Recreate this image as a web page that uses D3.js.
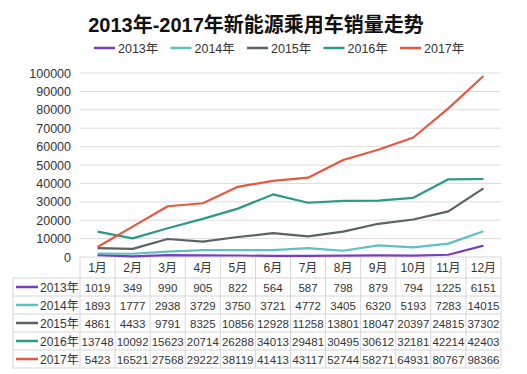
<!DOCTYPE html>
<html>
<head>
<meta charset="utf-8">
<script src="https://cdn.jsdelivr.net/npm/d3@7"></script>
<style>
  body { margin: 0; background: #fff; }
  text { font-family: "Liberation Sans", Arial, "Noto Sans CJK SC", sans-serif; }
</style>
</head>
<body>
<svg id="chart"></svg>
<script>
const months = ["1月", "2月", "3月", "4月", "5月", "6月", "7月", "8月", "9月", "10月", "11月", "12月"];
const years = ["2013年", "2014年", "2015年", "2016年", "2017年"];
const yTicks = [0, 10000, 20000, 30000, 40000, 50000, 60000, 70000, 80000, 90000, 100000];

const s2013 = [1019, 349, 990, 905, 822, 564, 587, 798, 879, 794, 1225, 6151];
const s2014 = [1893, 1777, 2938, 3729, 3750, 3721, 4772, 3405, 6320, 5193, 7283, 14015];
const s2015 = [4861, 4433, 9791, 8325, 10856, 12928, 11258, 13801, 18047, 20397, 24815, 37302];
const s2016 = [13748, 10092, 15623, 20714, 26288, 34013, 29481, 30495, 30612, 32181, 42214, 42403];
const s2017 = [5423, 16521, 27568, 29222, 38119, 41413, 43117, 52744, 58271, 64931, 80767, 98366];

const colors = ["#7a3fb8", "#5cc2be", "#5a6262", "#2b9888", "#e9573f"];
const series = [s2013, s2014, s2015, s2016, s2017];

const width = 527;
const height = 374;
const plotLeft = 80, plotRight = 501, plotTop = 73, plotBottom = 257;
const headerH = 21, rowH = 18, tableLeft = 13;

const svg = d3.select("#chart").attr("width", width).attr("height", height);

// Title
svg.append("text")
  .attr("x", 256).attr("y", 32)
  .attr("text-anchor", "middle")
  .attr("font-size", 20).attr("font-weight", "bold")
  .attr("fill", "#111")
  .text("2013年-2017年新能源乘用车销量走势");

// Legend
const legend = svg.append("g").attr("transform", "translate(94, 48)");
years.forEach((y, i) => {
  const g = legend.append("g").attr("transform", `translate(${i * 76.5}, 0)`);
  g.append("line").attr("x1", 0).attr("x2", 21).attr("y1", 0).attr("y2", 0)
    .attr("stroke", colors[i]).attr("stroke-width", 2.5);
  g.append("text").attr("x", 24).attr("y", 4.5)
    .attr("font-size", 12.5).attr("fill", "#333").text(y);
});

const x = d3.scaleBand().domain(months).range([plotLeft, plotRight]);
const yScale = d3.scaleLinear().domain([0, 100000]).range([plotBottom, plotTop]);

// Gridlines
svg.append("g")
  .selectAll("line")
  .data(yTicks.slice(1))
  .join("line")
  .attr("x1", plotLeft).attr("x2", plotRight)
  .attr("y1", d => yScale(d)).attr("y2", d => yScale(d))
  .attr("stroke", "#dcdcdc").attr("stroke-width", 1);

// Y axis labels
const yAxis = d3.axisLeft(yScale).tickValues(yTicks).tickFormat(d3.format("d"))
  .tickSize(0).tickPadding(9);
svg.append("g")
  .attr("transform", `translate(${plotLeft}, 0)`)
  .call(yAxis)
  .call(g => g.select(".domain").remove())
  .call(g => g.selectAll("text")
    .attr("font-size", 12.5).attr("fill", "#333")
    .style("font-family", '"Liberation Sans", Arial, sans-serif'));

// Table grid
const tableBottom = plotBottom + headerH + rowH * years.length;
const grid = svg.append("g").attr("stroke", "#d6d6d6").attr("stroke-width", 1);
grid.append("line").attr("x1", plotLeft).attr("x2", plotRight).attr("y1", plotBottom).attr("y2", plotBottom);
d3.range(years.length + 1).forEach(i => {
  const yy = plotBottom + headerH + rowH * i;
  grid.append("line").attr("x1", tableLeft).attr("x2", plotRight).attr("y1", yy).attr("y2", yy);
});
grid.append("line").attr("x1", tableLeft).attr("x2", tableLeft)
  .attr("y1", plotBottom + headerH).attr("y2", tableBottom);
months.forEach(m => {
  grid.append("line").attr("x1", x(m)).attr("x2", x(m))
    .attr("y1", plotBottom).attr("y2", tableBottom);
});
grid.append("line").attr("x1", plotRight).attr("x2", plotRight)
  .attr("y1", plotBottom).attr("y2", tableBottom);

// Header month labels
svg.append("g")
  .selectAll("text")
  .data(months)
  .join("text")
  .attr("x", d => x(d) + x.bandwidth() / 2)
  .attr("y", plotBottom + headerH / 2 + 4.5)
  .attr("text-anchor", "middle")
  .attr("font-size", 12).attr("fill", "#333")
  .text(d => d);

// Table rows
years.forEach((yr, i) => {
  const cy = plotBottom + headerH + rowH * i + rowH / 2;
  svg.append("line").attr("x1", 16).attr("x2", 38).attr("y1", cy).attr("y2", cy)
    .attr("stroke", colors[i]).attr("stroke-width", 2.5);
  svg.append("text").attr("x", 40).attr("y", cy + 4.5)
    .attr("font-size", 12).attr("fill", "#333").text(yr);
  svg.append("g")
    .selectAll("text")
    .data(series[i])
    .join("text")
    .attr("x", (d, j) => x(months[j]) + x.bandwidth() / 2)
    .attr("y", cy + 4.5)
    .attr("text-anchor", "middle")
    .attr("font-size", 11.5).attr("fill", "#333")
    .text(d => d);
});

// Lines
const line = d3.line()
  .x((d, j) => x(months[j]) + x.bandwidth() / 2)
  .y(d => yScale(d));

series.forEach((s, i) => {
  svg.append("path")
    .datum(s)
    .attr("d", line)
    .attr("fill", "none")
    .attr("stroke", colors[i])
    .attr("stroke-width", 2.2)
    .attr("stroke-linejoin", "round");
});
</script>
</body>
</html>
